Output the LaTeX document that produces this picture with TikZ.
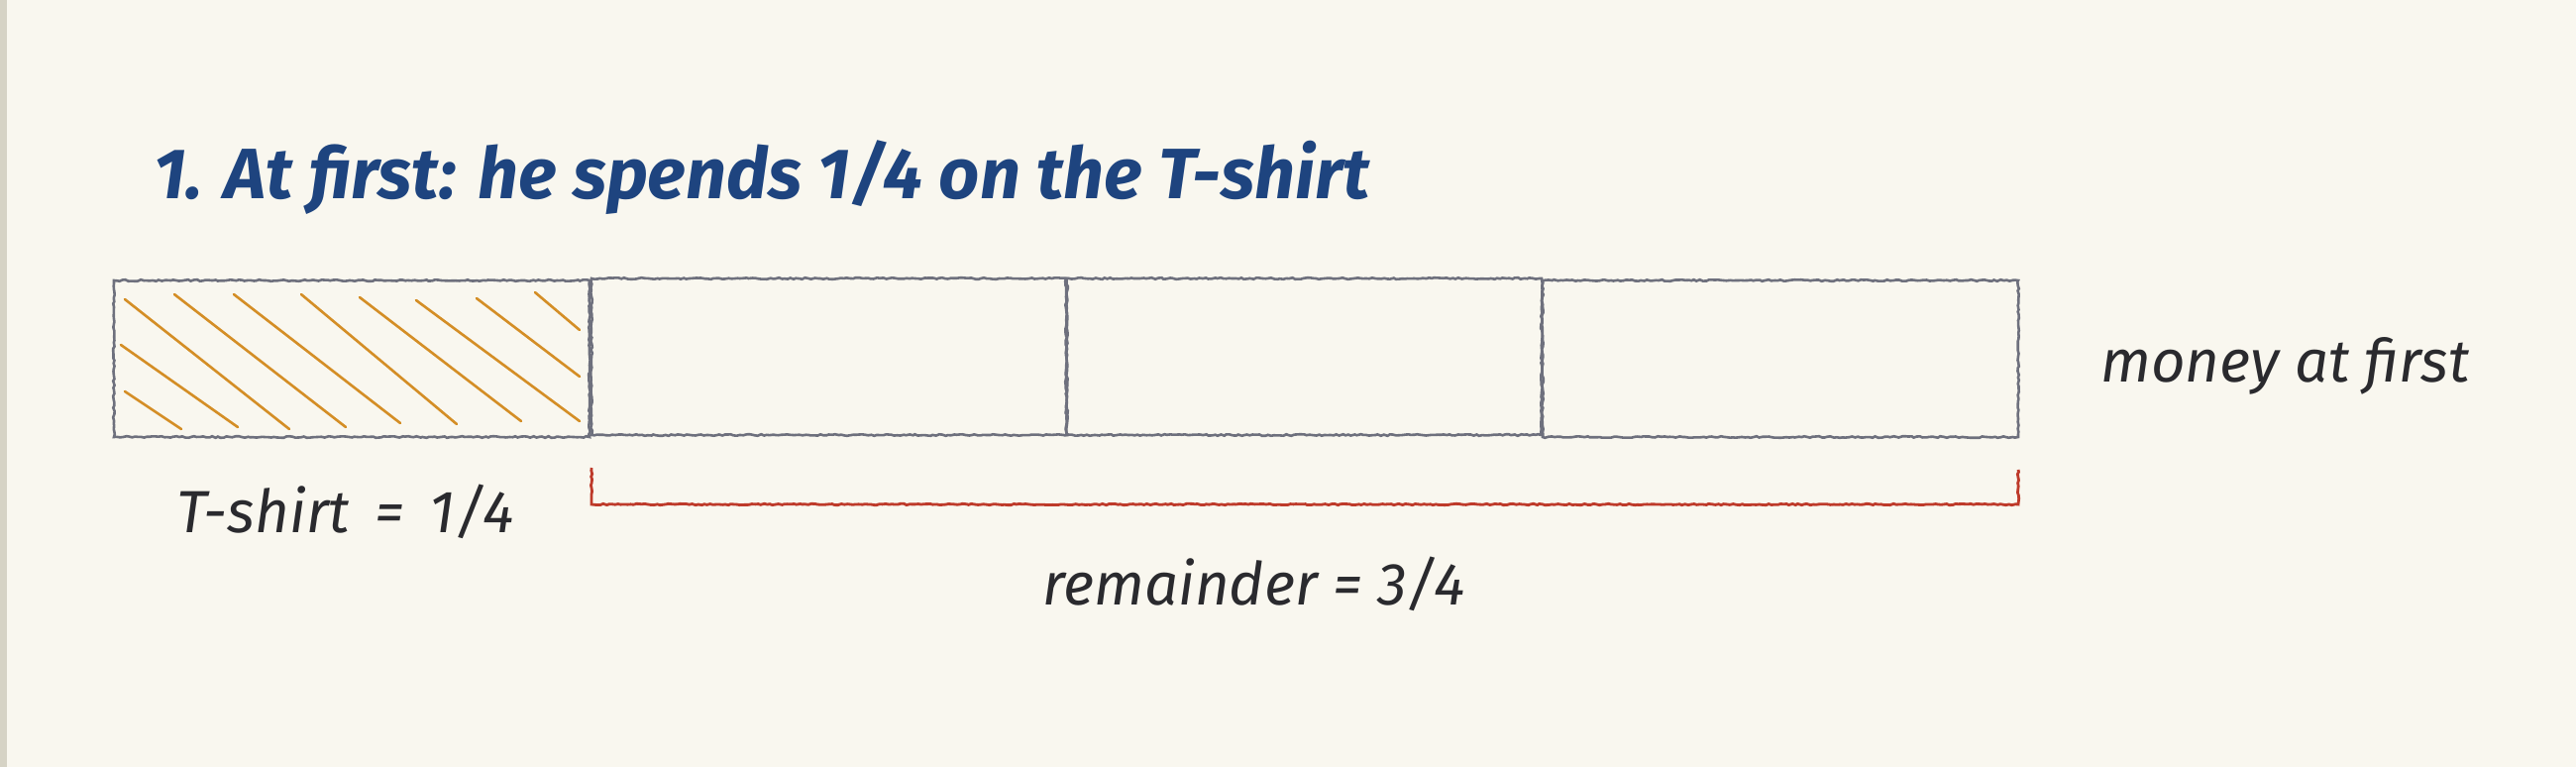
\documentclass[tikz,border=0pt]{standalone}
\usepackage{fontspec}
\setmainfont{Fira Sans}
\usetikzlibrary{decorations.pathmorphing,calc}
\definecolor{paper}{HTML}{F9F7EF}
\definecolor{strip}{HTML}{D6D3C5}
\definecolor{pencil}{HTML}{6E707D}
\definecolor{hatch}{HTML}{D48E26}
\definecolor{brk}{HTML}{BE3A2A}
\definecolor{titleblue}{HTML}{1E447F}
\definecolor{ink}{HTML}{2A2A2E}
\begin{document}
\begin{tikzpicture}[x=1pt,y=-1pt,
  cell/.style={draw=pencil, line width=2.6pt, minimum width=480pt, minimum height=158pt,
    inner sep=0pt, outer sep=0pt, anchor=north west, decorate,
    decoration={random steps, segment length=3pt, amplitude=0.8pt}},
  hatchline/.style={draw=hatch, line width=2.6pt, line cap=round},
  brace/.style={draw=brk, line width=2.8pt, decorate,
    decoration={random steps, segment length=3pt, amplitude=0.7pt}},
  titletext/.style={text=titleblue, font=\fontsize{72}{84}\selectfont\bfseries\itshape,
    inner sep=0pt, anchor=base west},
  lbl/.style={text=ink, font=\fontsize{60}{70}\selectfont\itshape, inner sep=0pt, anchor=base west}]
\pgfmathsetseed{7}
\useasboundingbox (0,0) rectangle (2600,774);
\fill[paper] (0,0) rectangle (2600,774);
\fill[strip] (0,0) rectangle (7,774);

\node[titletext] (title) at (155,200) {1. At first: he spends 1/4 on the T-shirt};

\node[cell] (b1) at (115,283) {};
\node[cell] (b2) at (597,281) {};
\node[cell] (b3) at (1076,281) {};
\node[cell] (b4) at (1557,283) {};

\draw[hatchline] (126,395) -- (183,433);
\draw[hatchline] (122,348) -- (240,431);
\draw[hatchline] (126,302) -- (292,433);
\draw[hatchline] (176,297) -- (349,431);
\draw[hatchline] (236,297) -- (404,427);
\draw[hatchline] (304,297) -- (461,428);
\draw[hatchline] (363,300) -- (526,425);
\draw[hatchline] (420,303) -- (585,425);
\draw[hatchline] (481,301) -- (585,380);
\draw[hatchline] (540,295) -- (585,333);

\coordinate (bl) at ($(b2.south west)+(0,33)$);
\coordinate (br) at ($(b4.south east)+(0,33)$);
\draw[brace] (bl) -- ++(0,37) -| (br);

\node[lbl] (money) at (2120,385) {money at first};
\node[lbl] (tshirt) at (178,537) {T-shirt \,=\, 1/4};
\node[lbl] (rem) at (1052,610) {remainder = 3/4};
\end{tikzpicture}
\end{document}
